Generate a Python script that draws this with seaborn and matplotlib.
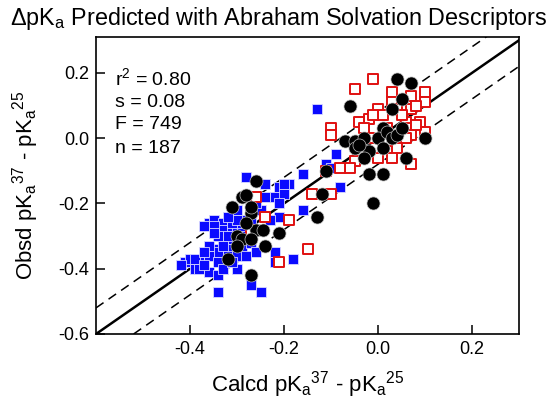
import numpy as np
import pandas as pd
import matplotlib
matplotlib.use("Agg")
import matplotlib.pyplot as plt
import seaborn as sns

# ---- data ----
blue_x = [-0.13, -0.16, -0.09, -0.11, -0.10, -0.08, -0.16, -0.19, -0.28, -0.24, -0.21, -0.20,
          -0.22, -0.20, -0.24, -0.21, -0.21, -0.36, -0.35, -0.33, -0.33, -0.31, -0.30, -0.28,
          -0.29, -0.27, -0.31, -0.33, -0.35, -0.32, -0.34, -0.33, -0.30, -0.29, -0.36, -0.38,
          -0.41, -0.39, -0.38, -0.36, -0.30, -0.27, -0.25, -0.34, -0.22, -0.18, -0.22, -0.27,
          -0.29, -0.32, -0.40, -0.34, -0.34, -0.35, -0.33, -0.31, -0.30, -0.32, -0.30, -0.33,
          -0.28, -0.37, -0.34, -0.36, -0.39, -0.37, -0.31, -0.28, -0.26, -0.25, -0.23, -0.26,
          -0.30, -0.32, -0.35, -0.37, -0.42]
blue_y = [0.09, -0.11, -0.05, -0.08, -0.09, -0.15, -0.22, -0.14, -0.12, -0.14, -0.15, -0.14,
          -0.18, -0.17, -0.18, -0.20, -0.24, -0.26, -0.25, -0.26, -0.28, -0.27, -0.27, -0.28,
          -0.25, -0.26, -0.31, -0.32, -0.34, -0.34, -0.35, -0.38, -0.35, -0.34, -0.36, -0.38,
          -0.38, -0.40, -0.40, -0.41, -0.40, -0.45, -0.47, -0.47, -0.38, -0.37, -0.35, -0.32,
          -0.29, -0.30, -0.37, -0.42, -0.38, -0.27, -0.33, -0.26, -0.25, -0.36, -0.36, -0.40,
          -0.30, -0.27, -0.30, -0.33, -0.37, -0.39, -0.38, -0.36, -0.35, -0.22, -0.25, -0.20,
          -0.22, -0.24, -0.29, -0.35, -0.39]

red_x = [-0.01, -0.05, 0.03, 0.07, 0.10, 0.10, 0.03, 0.07, 0.08, 0.00, 0.04, -0.02, -0.04,
         0.01, 0.06, 0.09, 0.10, -0.10, -0.10, -0.02, 0.02, 0.06, 0.07, 0.06, 0.04, 0.00,
         0.03, -0.05, -0.06, -0.08, -0.11, 0.07, -0.14, -0.10, -0.19, -0.01, -0.26, -0.24,
         -0.27, -0.21, -0.15, 0.05, 0.08, -0.03, 0.02]
red_y = [0.18, 0.15, 0.14, 0.13, 0.14, 0.11, 0.11, 0.09, 0.10, 0.09, 0.09, 0.06, 0.05,
         0.07, 0.05, 0.05, 0.02, 0.03, 0.01, 0.00, 0.03, 0.03, 0.01, 0.00, -0.03, -0.06,
         -0.06, -0.07, -0.09, -0.09, -0.10, -0.08, -0.17, -0.17, -0.25, 0.07, -0.18, -0.24,
         -0.28, -0.38, -0.34, 0.07, 0.04, 0.03, -0.01]

black_x = [0.04, 0.07, 0.05, 0.03, -0.06, 0.01, -0.07, -0.05, -0.03, 0.00, 0.02, 0.03, 0.04,
           0.10, -0.05, -0.02, 0.01, -0.03, 0.06, -0.11, -0.02, 0.01, -0.12, -0.01, -0.13,
           -0.26, -0.29, -0.28, -0.31, -0.27, -0.27, -0.26, -0.245, -0.21, -0.30, -0.29,
           -0.27, -0.30, -0.24, -0.32, -0.27, 0.05, -0.04, -0.28]
black_y = [0.18, 0.17, 0.12, 0.09, 0.10, 0.03, -0.01, -0.01, 0.00, 0.00, 0.02, 0.00, 0.01,
           0.00, -0.03, -0.04, -0.03, -0.06, -0.06, -0.10, -0.11, -0.11, -0.17, -0.20, -0.24,
           -0.13, -0.18, -0.175, -0.21, -0.23, -0.21, -0.28, -0.28, -0.29, -0.30, -0.31,
           -0.31, -0.33, -0.33, -0.37, -0.42, 0.03, -0.02, -0.26]

line_x = [-0.6, 0.31]
band = 0.08

x_ticks = [-0.4, -0.2, 0.0, 0.2]
y_ticks = [-0.6, -0.4, -0.2, 0.0, 0.2]
stats = ["r$^\\mathregular{2}$ = 0.80", "s = 0.08", "F = 749", "n = 187"]

# ---- style ----
sns.set_theme(style="white")
plt.rcParams['font.family'] = ['Liberation Sans', 'DejaVu Sans']
plt.rcParams['mathtext.fontset'] = 'custom'
plt.rcParams['mathtext.rm'] = 'Liberation Sans'
plt.rcParams['mathtext.it'] = 'Liberation Sans:italic'
plt.rcParams['mathtext.bf'] = 'Liberation Sans:bold'

fig = plt.figure(figsize=(5.53, 4.01), dpi=100)
ax = fig.add_axes([96/553, 1 - 334/401, 423/553, 297/401])

lx = np.array(line_x)
ax.plot(lx, lx, color='black', lw=1.8, zorder=1)
ax.plot(lx, lx + band, color='black', lw=1.1, dashes=(6, 4), zorder=1)
ax.plot(lx, lx - band, color='black', lw=1.1, dashes=(6, 4), zorder=1)

sns.scatterplot(x=blue_x, y=blue_y, ax=ax, marker='s', s=52, color='#0a0aff',
                edgecolor='#d8d8ff', linewidth=0.6, zorder=2)
sns.scatterplot(x=red_x, y=red_y, ax=ax, marker='s', s=48, color='white',
                edgecolor='#e01010', linewidth=1.4, zorder=3)
sns.scatterplot(x=black_x, y=black_y, ax=ax, marker='o', s=88, color='black',
                edgecolor='#bbbbbb', linewidth=0.5, zorder=4)

ax.set_xlim(-0.6, 0.3)
ax.set_ylim(-0.6, 0.31)
ax.set_xticks(x_ticks)
ax.set_yticks(y_ticks)
ax.set_xticklabels([f"{v:.1f}" for v in x_ticks])
ax.set_yticklabels([f"{v:.1f}" for v in y_ticks])
ax.tick_params(direction='in', length=6.5, width=1.1, labelsize=13, colors='black',
               bottom=True, left=True, top=False, right=False, pad=5)
for sp in ax.spines.values():
    sp.set_visible(True)
    sp.set_color('black')
    sp.set_linewidth(1.2)

ax.set_xlabel("Calcd pK$_\\mathregular{a}$$^\\mathregular{37}$ - pK$_\\mathregular{a}$$^\\mathregular{25}$",
              fontsize=16, color='black', labelpad=8)
ax.set_ylabel("Obsd pK$_\\mathregular{a}$$^\\mathregular{37}$ - pK$_\\mathregular{a}$$^\\mathregular{25}$",
              fontsize=16, color='black', labelpad=12)

for i, (t, yy) in enumerate(zip(stats, [0.862, 0.781, 0.704, 0.626])):
    ax.text(0.045, yy, t, transform=ax.transAxes, fontsize=14, va='center', ha='left',
            color='black')

fig.text(10/553, 1 - 18/401, "\u0394pK$_\\mathregular{a}$ Predicted with Abraham Solvation Descriptors",
         fontsize=16.8, ha='left', va='center', color='black')

fig.savefig("out.png", dpi=100)
